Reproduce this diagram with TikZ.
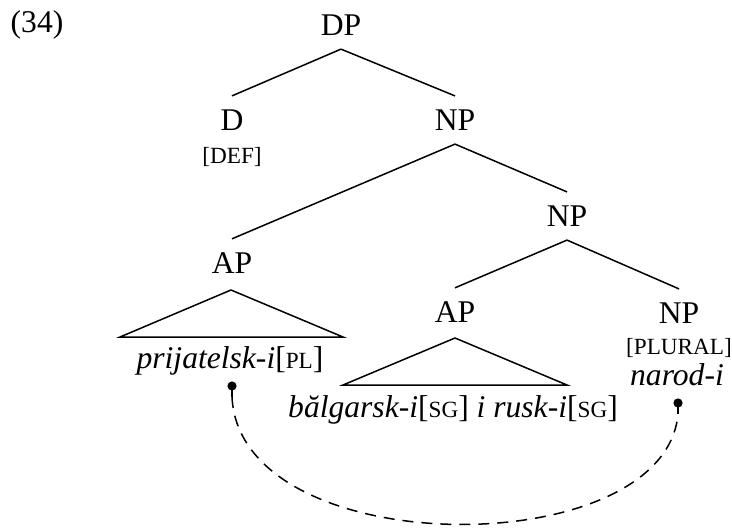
\documentclass[tikz,border=0pt]{standalone}
\usepackage{fontspec}
\setmainfont{Liberation Serif}
\newcommand\fsc[1]{{\fontsize{11.6}{13}\selectfont #1}}

\begin{document}
\begin{tikzpicture}[x=0.5pt, y=-0.5pt, line width=0.75pt,
		  font=\fontsize{15.8}{18}\selectfont,
		  cat/.style={inner xsep=2pt, inner ysep=6.5pt},
		  leaf/.style={anchor=base, inner sep=0pt},
		  dot/.style={circle, fill, inner sep=0pt, minimum size=4.6pt},
		  link/.style={dash pattern=on 5.5pt off 4pt}
		]
		\useasboundingbox (0,0) rectangle (732,529);
		\node (ex) at (37,25) {(34)};
		
		% categories
		\node[cat] (dp)  at (341,25)  {DP};
		\node[cat] (d)   at (232,120) {D};
		\node[cat] (np1) at (455,120) {NP};
		\node[cat] (np2) at (567,216) {NP};
		\node[cat] (ap1) at (232,263) {AP};
		\node[cat] (ap2) at (455,312) {AP};
		\node[cat] (np3) at (679,313) {NP};
		
		% features and words
		\node[leaf] (def)    at (232,163) {\fsc{[DEF]}};
		\node[leaf] (plural) at (679,354) {\fsc{[PLURAL]}};
		\node[leaf] (narod)  at (677,385) {\emph{narod-i}};
		\node[leaf] (prij)   at (230,368) {\emph{prijatelsk-i}[\fsc{PL}]};
		\node[leaf] (balg)   at (453,417) {\emph{bălgarsk-i}[\fsc{SG}] \emph{i rusk-i}[\fsc{SG}]};
		
		\draw (dp.south) -- (d.north);
		\draw (dp.south) -- (np1.north);
		\draw (np1.south) -- (ap1.north);
		\draw (np1.south) -- (np2.north);
		\draw (np2.south) -- (ap2.north);
		\draw (np2.south) -- (np3.north);
		
		% triangles
		\coordinate (t1) at (231,290);
		\coordinate (t1l) at (120,337);
		\coordinate (t1r) at (343,337);
		\draw (t1) -- (t1l) -- (t1r) -- cycle;
		\coordinate (t2) at (455,338);
		\coordinate (t2l) at (343,385);
		\coordinate (t2r) at (567,385);
		\draw (t2) -- (t2l) -- (t2r) -- cycle;
		
		% agreement link
		\node[dot] (ldot) at (232,386) {};
		\node[dot] (rdot) at (678,403) {};
		\coordinate (lend) at (232,397);
		\coordinate (rend) at (678,414);
		\draw (ldot.center) -- (lend);
		\draw (rdot.center) -- (rend);
		\draw[link] (lend) .. controls (240,564) and (665,564) .. (rend);
		\end{tikzpicture}
\end{document}
